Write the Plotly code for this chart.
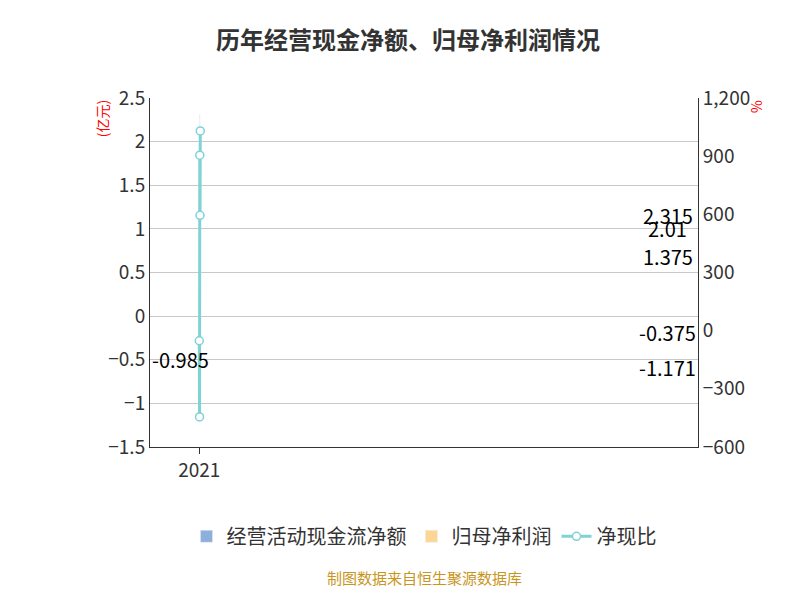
import plotly.graph_objects as go

years = ["2021", "2022", "2023", "2024", "2025", "2026H1"]
cash_flow = [-0.375, -1.171, 2.315, 2.01, 1.375, -0.985]
net_profit = [0.845, 0.27, 0.25, 0.34, 0.13, -0.30]
ratio = [-52, -445, 905, 595, 1030, None]

fig = go.Figure()
fig.add_trace(go.Bar(x=years, y=cash_flow, name="经营活动现金流净额",
                     marker_color="#8eaedb", width=0.35, offset=-0.4))
fig.add_trace(go.Bar(x=years, y=net_profit, name="归母净利润",
                     marker_color="#fed694", width=0.35, offset=0.05))
fig.add_trace(go.Scatter(x=years, y=ratio, name="净现比", yaxis="y2",
                         mode="lines+markers", line=dict(color="#7fd2d6", width=3),
                         marker=dict(size=8, color="white",
                                     line=dict(color="#7fd2d6", width=1.5))))

for yr, v in zip(years, cash_flow):
    fig.add_annotation(x=yr, y=v / 2, text=str(v), showarrow=False,
                       xshift=-20, font=dict(size=20, color="black"))

fig.update_layout(
    width=800, height=600,
    title=dict(text="<b>历年经营现金净额、归母净利润情况</b>", x=0.5, y=0.96,
               font=dict(size=24, color="#333")),
    font=dict(family="Noto Sans CJK SC", size=19, color="#333"),
    plot_bgcolor="white", paper_bgcolor="white",
    margin=dict(l=142, r=110, t=90, b=161),
    barmode="group",
    xaxis=dict(type="category", showline=True, linecolor="#333", ticks="outside",
               tickcolor="#333", ticklen=6),
    yaxis=dict(range=[-1.5, 2.5], dtick=0.5, showgrid=True, gridcolor="#c8c8c8",
               showline=True, linecolor="#333", zeroline=False,
               tickformat="~g"),
    yaxis2=dict(range=[-600, 1200], dtick=300, overlaying="y", side="right",
                showgrid=False, showline=True, linecolor="#333", zeroline=False,
                tickformat=","),
    legend=dict(orientation="h", x=0.5, xanchor="center", y=-0.2, yanchor="top",
                font=dict(size=20)),
    showlegend=True,
)
fig.add_annotation(text="(亿元)", xref="paper", yref="paper", x=-0.11, y=1.0,
                   textangle=-90, showarrow=False, font=dict(size=14, color="red"),
                   yanchor="top")
fig.add_annotation(text="%", xref="paper", yref="paper", x=1.13, y=1.0,
                   textangle=90, showarrow=False, font=dict(size=14, color="red"),
                   yanchor="top")
fig.add_annotation(text="制图数据来自恒生聚源数据库", xref="paper", yref="paper",
                   x=0.5, y=-0.41, showarrow=False,
                   font=dict(size=15, color="#c8961e"))
fig.write_html("out.html")
